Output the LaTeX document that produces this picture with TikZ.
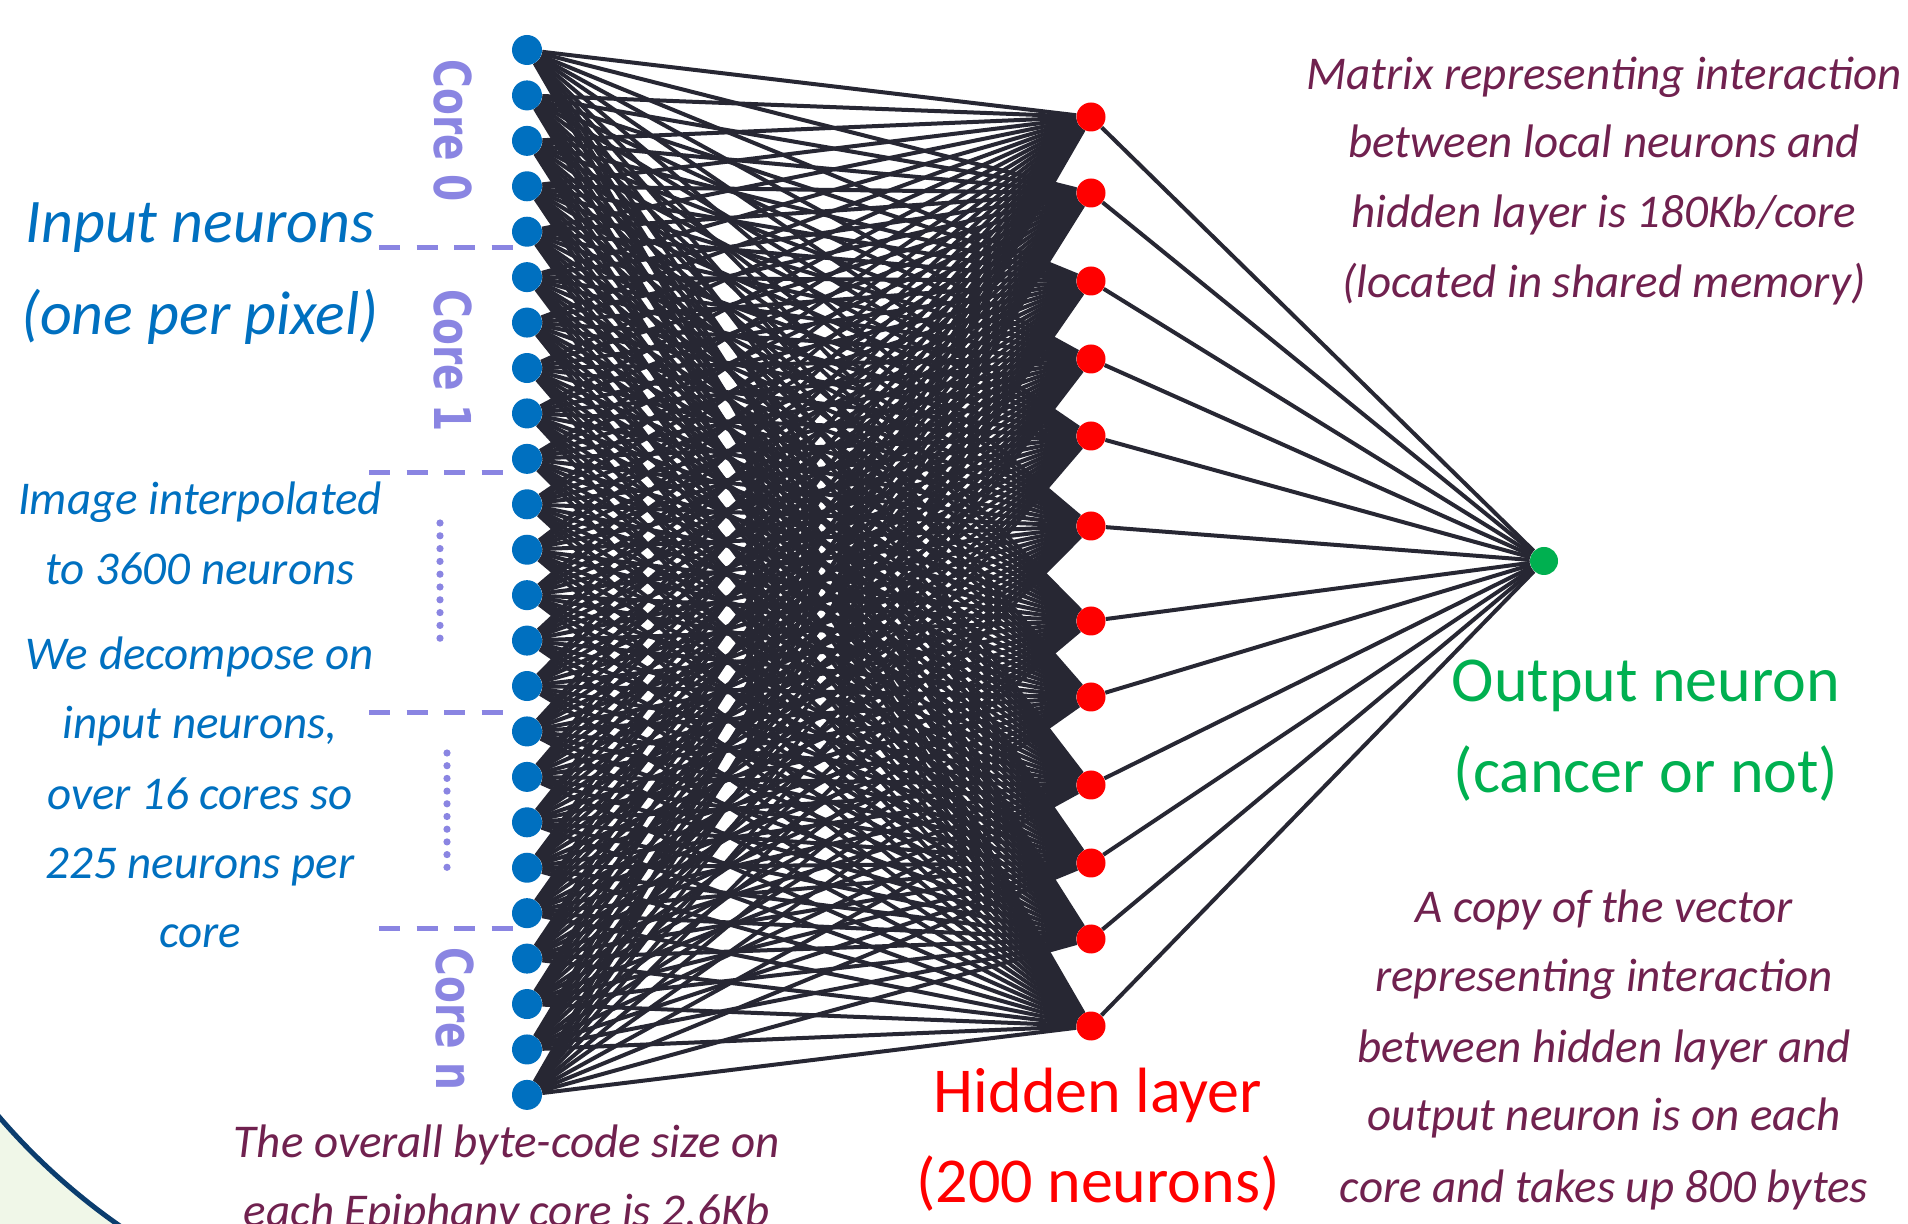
\documentclass[tikz,border=0pt]{standalone}
\usepackage{graphicx}
\usepackage{fontspec}
\setmainfont{Carlito}
\newfontfamily\corefont{DejaVu Sans}
\pgfdeclarelayer{paper}
\pgfdeclarelayer{edges}
\pgfsetlayers{paper,edges,main}
\definecolor{nblue}{HTML}{0070C0}
\definecolor{nred}{HTML}{FF0000}
\definecolor{ngreen}{HTML}{00B050}
\definecolor{lav}{HTML}{8A85E2}
\definecolor{maroontx}{HTML}{70214F}
\definecolor{edgec}{HTML}{272733}
\definecolor{navyarc}{HTML}{0B3D6E}
\definecolor{palegreen}{HTML}{F0F7E8}
\begin{document}
\begin{tikzpicture}[x=0.5pt,y=-0.5pt,
  inneuron/.style={circle,fill=nblue,minimum size=15pt,inner sep=0pt},
  hidneuron/.style={circle,fill=nred,minimum size=14.5pt,inner sep=0pt},
  outneuron/.style={circle,fill=ngreen,minimum size=14pt,inner sep=0pt},
  edge/.style={draw=edgec,line width=2pt},
  sepline/.style={draw=lav,line width=2.5pt,dash pattern=on 10.5pt off 8.25pt},
  dotmark/.style={fill=lav},
  bigblue/.style={text=nblue,font=\fontsize{31}{37}\selectfont\itshape,anchor=base,inner sep=0pt},
  smallblue/.style={text=nblue,font=\fontsize{23.5}{28}\selectfont\itshape,anchor=base,inner sep=0pt},
  maroonnote/.style={text=maroontx,font=\fontsize{23.5}{28}\selectfont\itshape,anchor=base,inner sep=0pt},
  bigred/.style={text=nred,font=\fontsize{32}{38}\selectfont,anchor=base,inner sep=0pt},
  biggreen/.style={text=ngreen,font=\fontsize{32}{38}\selectfont,anchor=base,inner sep=0pt},
  corelab/.style={text=lav,font=\corefont\bfseries\fontsize{25.4}{30}\selectfont,rotate=-90,inner sep=0pt}]
\path[use as bounding box] (0,0) rectangle (1908,1224);
\clip (0,0) rectangle (1908,1224);
\begin{pgfonlayer}{paper}
  \fill[white] (0,0) rectangle (1908,1224);
  % decorative corner shape
  \begin{scope}
    \clip (0,1000) rectangle (260,1224);
    \fill[palegreen,even odd rule] (-20,900) rectangle (300,1300) (487,698) circle[radius=643];
    \draw[navyarc,line width=2.5pt] (487,698) circle[radius=643];
  \end{scope}
\end{pgfonlayer}

% neurons
\foreach \i in {1,...,24}
  \node[inneuron] (in\i) at (527,{50+45.43*(\i-1)}) {};
\foreach \y [count=\j] in {117,193,281,359,436,526,621,697,785,863,939,1026}
  \node[hidneuron] (hid\j) at (1091,\y) {};
\node[outneuron] (out) at (1544,561) {};

% connectors
\begin{pgfonlayer}{edges}
  \foreach \i in {1,...,24}
    \foreach \j in {1,...,12}
      \draw[edge] (in\i) -- (hid\j);
  \foreach \j in {1,...,12}
    \draw[edge] (hid\j) -- (out);
\end{pgfonlayer}

% core separators
\draw[sepline] (379,248) -- (513,248);
\draw[sepline] (369,473) -- (503,473);
\draw[sepline] (369,713) -- (503,713);
\draw[sepline] (379,929) -- (513,929);
\foreach \k in {0,...,9} {
  \fill[dotmark] (440,{523+12.8*\k}) circle[radius=3.6];
  \fill[dotmark] (447,{753+12.7*\k}) circle[radius=3.6];
}
\node[corelab] (core0) at (453,131) {\scalebox{0.77}[1]{Core 0}};
\node[corelab] (core1) at (453,361) {\scalebox{0.77}[1]{Core 1}};
\node[corelab] (coren) at (455,1019) {\scalebox{0.77}[1]{Core n}};

% left texts
\node[bigblue] (inlab1) at (200,243) {Input neurons};
\node[bigblue] (inlab2) at (200,335) {(one per pixel)};
\foreach \t/\y [count=\k] in {{Image interpolated}/515,{to 3600 neurons}/585,{We decompose on}/670,{input neurons,}/739,{over 16 cores so}/810,{225 neurons per}/878,{core}/948}
  \node[smallblue] (note\k) at (200,\y) {\t};

% bottom text
\node[maroonnote] (byte1) at (507,1157) {The overall byte-code size on};
\node[maroonnote] (byte2) at (507,1226) {each Epiphany core is 2.6Kb};

% hidden layer label
\node[bigred] (hidlab1) at (1098,1112) {Hidden layer};
\node[bigred] (hidlab2) at (1098,1202) {(200 neurons)};

% output label
\node[biggreen] (outlab1) at (1646,702) {Output neuron};
\node[biggreen] (outlab2) at (1646,793) {(cancer or not)};

% right notes
\foreach \t/\y [count=\k] in {{Matrix representing interaction}/90,{between local neurons and}/158,{hidden layer is 180Kb/core}/228,{(located in shared memory)}/298}
  \node[maroonnote] (mat\k) at (1604,\y) {\t};
\foreach \t/\y [count=\k] in {{A copy of the vector}/922,{representing interaction}/992,{between hidden layer and}/1062,{output neuron is on each}/1130,{core and takes up 800 bytes}/1202}
  \node[maroonnote] (vec\k) at (1604,\y) {\t};
\end{tikzpicture}
\end{document}
